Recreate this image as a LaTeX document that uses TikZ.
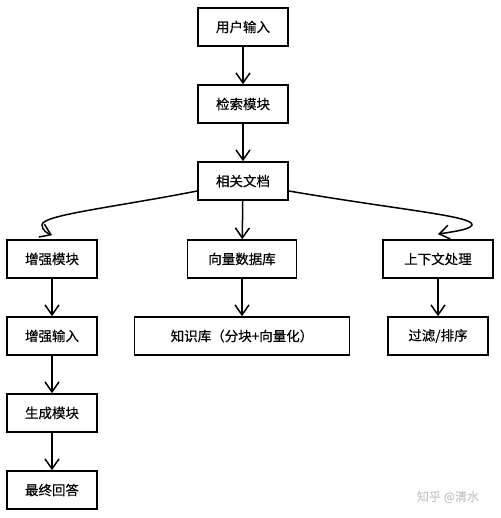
\documentclass[tikz,border=0pt]{standalone}
\usepackage{fontspec}
\setmainfont{Noto Sans CJK SC}[FakeBold=0.4]
\usetikzlibrary{arrows.meta}

\begin{document}
\begin{tikzpicture}[x=1pt, y=-1pt, >={Straight Barb[length=10pt,width=14pt]}, line width=1.5pt,
    box/.style={draw, line width=1.6pt, minimum height=38pt, minimum width=90pt, inner sep=0pt,
        font=\fontsize{13.5}{15}\selectfont}]
        \useasboundingbox (0,0) rectangle (500,518);

        % the main column
        \node[box] (input) at (243,27) {用户输入};
        \node[box] (search) at (243,104) {检索模块};
        \node[box] (docs) at (243,181) {相关文档};

        % the three branches
        \node[box] (enhance) at (52,259) {增强模块};
        \node[box, minimum width=109pt] (vecdb) at (242,259) {向量数据库};
        \node[box, minimum width=110pt] (context) at (438,259) {上下文处理};

        % second row of the branches
        \node[box] (enhinput) at (52,336) {增强输入};
        \node[box, minimum width=215pt] (kb) at (242,336) {知识库（分块+向量化）};
        \node[box, minimum width=100pt] (filter) at (438,336) {过滤/排序};

        % the left branch goes on
        \node[box] (generate) at (52,413) {生成模块};
        \node[box] (answer) at (52,490) {最终回答};

        % straight arrows
        \draw[->] (input) -- (search);
        \draw[->] (search) -- (docs);
        \draw[->] (docs) -- (vecdb);
        \draw[->] (vecdb) -- (kb);
        \draw[->] (context) -- (filter);
        \draw[->] (enhance) -- (enhinput);
        \draw[->] (enhinput) -- (generate);
        \draw[->] (generate) -- (answer);

        % curved arrows out of the documents box
        \coordinate (lstart) at ([yshift=-10pt]docs.west);
        \coordinate (rstart) at ([yshift=-10pt]docs.east);
        \coordinate (ltip) at ([yshift=4pt]enhance.north);
        \coordinate (rtip) at ([yshift=5pt]context.north);
        \draw[->] (lstart) .. controls (110,208) and (42,215) .. (42,225)
            .. controls (42,230) and (47,233) .. (ltip);
        \draw[->] (rstart) .. controls (400,210) and (474,216) .. (472,225)
            .. controls (470,230) and (450,232) .. (rtip);

        % watermark
        \node[text=black!22, font=\fontsize{12}{14}\selectfont] (mark) at (448,497) {知乎 @清水};
\end{tikzpicture}
\end{document}
